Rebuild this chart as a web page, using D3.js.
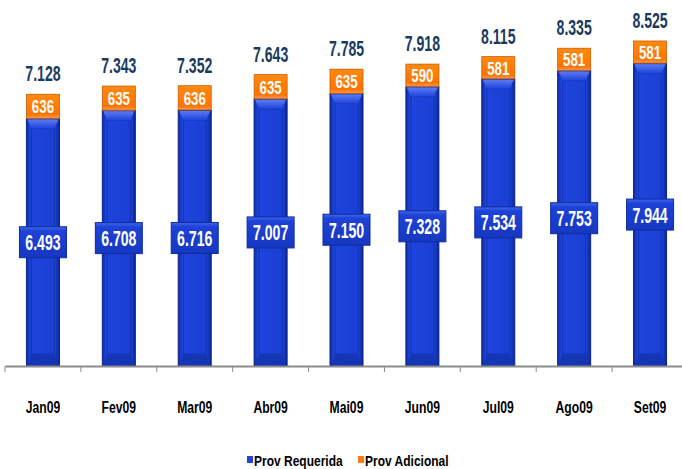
<!DOCTYPE html>
<html>
<head>
<meta charset="utf-8">
<script src="https://cdn.jsdelivr.net/npm/d3@7"></script>
<style>
  body { margin: 0; background: #fff; }
  svg text { font-family: "Liberation Sans", Arial, sans-serif; font-weight: bold; }
</style>
</head>
<body>
<svg id="chart" width="682" height="469"></svg>
<script>
var months = ["Jan09", "Fev09", "Mar09", "Abr09", "Mai09", "Jun09", "Jul09", "Ago09", "Set09"];
var requerida = [6493, 6708, 6716, 7007, 7150, 7328, 7534, 7753, 7944];
var adicional = [636, 635, 636, 635, 635, 590, 581, 581, 581];
var totals = [7128, 7343, 7352, 7643, 7785, 7918, 8115, 8335, 8525];

var svg = d3.select("#chart");
var axisY = 366;

var fmt = function(v) {
    return d3.format(",")(v).replace(/,/g, ".");
};

var x = d3.scaleBand().domain(months).range([5, 688]);
var y = d3.scaleLinear().domain([0, 9600]).range([axisY, 0]);
var barW = 33;

// narrow text: no Arial Narrow here, so squeeze horizontally
function narrow(sel, sx, fy) {
    return sel.append("g")
        .attr("transform", function(d) { return "translate(0," + fy(d) + ") scale(" + sx + ",1)"; })
        .append("text")
        .attr("text-anchor", "middle");
}

// gradients
var defs = svg.append("defs");
var gBlue = defs.append("linearGradient").attr("id", "gBlue").attr("x1", 0).attr("x2", 1);
gBlue.append("stop").attr("offset", "0%").attr("stop-color", "#0c2da8");
gBlue.append("stop").attr("offset", "12%").attr("stop-color", "#1f44dc");
gBlue.append("stop").attr("offset", "88%").attr("stop-color", "#1a3fd2");
gBlue.append("stop").attr("offset", "100%").attr("stop-color", "#0a2690");
var gTop = defs.append("linearGradient").attr("id", "gTop").attr("x1", 0).attr("x2", 0).attr("y1", 0).attr("y2", 1);
gTop.append("stop").attr("offset", "0%").attr("stop-color", "#5a7cf2");
gTop.append("stop").attr("offset", "100%").attr("stop-color", "#1f44dc");
var gOr = defs.append("linearGradient").attr("id", "gOr").attr("x1", 0).attr("x2", 0).attr("y1", 0).attr("y2", 1);
gOr.append("stop").attr("offset", "0%").attr("stop-color", "#ff8a10");
gOr.append("stop").attr("offset", "82%").attr("stop-color", "#ff7300");
gOr.append("stop").attr("offset", "100%").attr("stop-color", "#f29a50");
var gLab = defs.append("linearGradient").attr("id", "gLab").attr("x1", 0).attr("x2", 0).attr("y1", 0).attr("y2", 1);
gLab.append("stop").attr("offset", "0%").attr("stop-color", "#4367ec");
gLab.append("stop").attr("offset", "14%").attr("stop-color", "#1d42d6");
gLab.append("stop").attr("offset", "100%").attr("stop-color", "#1637c0");

var data = months.map(function(m, i) {
    return { m: m, req: requerida[i], add: adicional[i], tot: totals[i] };
});

var g = svg.selectAll("g.bar").data(data).enter().append("g").attr("class", "bar")
    .attr("transform", function(d) { return "translate(" + (x(d.m) + x.bandwidth() / 2) + ",0)"; });

// blue segment
g.append("rect")
    .attr("x", -barW / 2)
    .attr("y", function(d) { return y(d.req); })
    .attr("width", barW)
    .attr("height", function(d) { return axisY - y(d.req); })
    .attr("fill", "url(#gBlue)")
    .attr("stroke", "#0a2485")
    .attr("stroke-width", 1);

// inner lines
g.append("rect")
    .attr("x", -barW / 2 + 5)
    .attr("y", function(d) { return y(d.req) + 10; })
    .attr("width", barW - 10)
    .attr("height", function(d) { return axisY - y(d.req) - 22; })
    .attr("fill", "none")
    .attr("stroke", "#1534b8")
    .attr("stroke-width", 1);

// top bevel
g.append("path")
    .attr("d", function(d) {
        var t = y(d.req);
        return "M" + (-barW / 2 + 1) + "," + (t + 1) + "L" + (barW / 2 - 1) + "," + (t + 1) +
            "L" + (barW / 2 - 5) + "," + (t + 10) + "L" + (-barW / 2 + 5) + "," + (t + 10) + "Z";
    })
    .attr("fill", "url(#gTop)");

// bottom bevel
g.append("path")
    .attr("d", function(d) {
        var b = axisY;
        return "M" + (-barW / 2 + 1) + "," + (b - 1) + "L" + (barW / 2 - 1) + "," + (b - 1) +
            "L" + (barW / 2 - 5) + "," + (b - 12) + "L" + (-barW / 2 + 5) + "," + (b - 12) + "Z";
    })
    .attr("fill", "#1536b4");

// orange segment
g.append("rect")
    .attr("x", -barW / 2)
    .attr("y", function(d) { return y(d.tot); })
    .attr("width", barW)
    .attr("height", function(d) { return y(d.req) - y(d.tot); })
    .attr("fill", "url(#gOr)")
    .attr("stroke", "#c95c00")
    .attr("stroke-width", 0.8);

narrow(g, 0.7, function(d) { return (y(d.req) + y(d.tot)) / 2 + 7; })
    .attr("fill", "#fff")
    .attr("font-size", 19)
    .text(function(d) { return d.add; });

// blue label boxes
g.append("rect")
    .attr("x", -23.5)
    .attr("y", function(d) { return (y(d.req) + axisY) / 2 - 15.5; })
    .attr("width", 47)
    .attr("height", 31)
    .attr("fill", "url(#gLab)")
    .attr("stroke", "#0e2c9e")
    .attr("stroke-width", 1);

narrow(g, 0.64, function(d) { return (y(d.req) + axisY) / 2 + 8; })
    .attr("fill", "#fff")
    .attr("font-size", 22)
    .text(function(d) { return fmt(d.req); });

// totals
narrow(g, 0.64, function(d) { return y(d.tot) - 13; })
    .attr("fill", "#1b3a5e")
    .attr("font-size", 22)
    .text(function(d) { return fmt(d.tot); });

// x axis
var xAxis = d3.axisBottom(x).tickSize(0).tickFormat("");
var ax = svg.append("g").attr("transform", "translate(0," + axisY + ")").call(xAxis);
ax.select(".domain").attr("stroke", "#8c8c8c").attr("stroke-width", 2);
narrow(svg.append("g").attr("transform", "translate(0," + axisY + ")")
        .selectAll("g.xl").data(months).enter().append("g").attr("class", "xl")
        .attr("transform", function(d) { return "translate(" + (x(d) + x.bandwidth() / 2) + ",0)"; }),
    0.76, function() { return 47; })
    .attr("font-size", 16)
    .attr("fill", "#000")
    .text(function(d) { return d; });

// category separators
svg.append("g").selectAll("line").data(months).enter().append("line")
    .attr("x1", function(d) { return x(d); })
    .attr("x2", function(d) { return x(d); })
    .attr("y1", axisY)
    .attr("y2", axisY + 6)
    .attr("stroke", "#8c8c8c")
    .attr("stroke-width", 1);

// legend
var legend = [
    { name: "Prov Requerida", color: "#1f44dc", x: 247 },
    { name: "Prov Adicional", color: "#ff7a10", x: 358 }
];
var lg = svg.selectAll("g.lg").data(legend).enter().append("g").attr("class", "lg")
    .attr("transform", function(d) { return "translate(" + d.x + ",456)"; });
lg.append("rect").attr("width", 6).attr("height", 7).attr("fill", function(d) { return d.color; });
lg.append("g").attr("transform", "translate(7,9.5) scale(0.8,1)")
    .append("text").attr("font-size", 15).attr("fill", "#000")
    .text(function(d) { return d.name; });
</script>
</body>
</html>
